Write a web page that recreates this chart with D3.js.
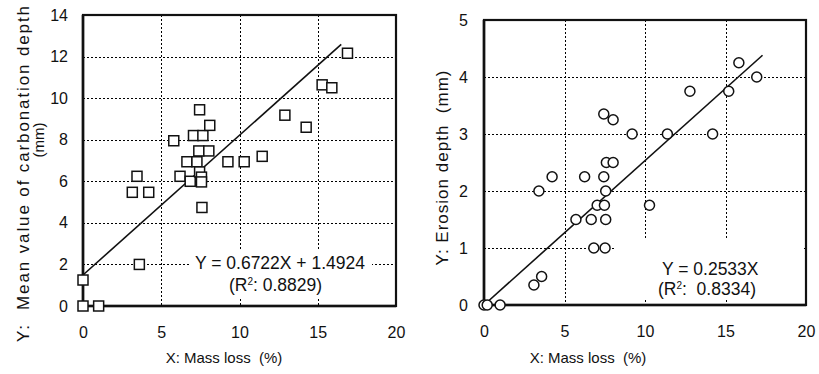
<!DOCTYPE html>
<html>
<head>
<meta charset="utf-8">
<script src="https://cdn.jsdelivr.net/npm/d3@7"></script>
<style>
  html, body { margin: 0; padding: 0; background: #fff; }
  svg { display: block; }
  text { font-family: "Liberation Sans", Arial, sans-serif; fill: #111; }
</style>
</head>
<body>
<svg id="chart" width="819" height="374"></svg>
<script>
// Carbonation depth vs. mass loss (left panel)
const carbMassLoss = [0, 1.0, 0, 3.6, 3.15, 4.2, 3.45, 5.8, 6.2, 6.64, 6.85, 7.06, 7.45, 7.66, 8.1,
  7.4, 8.04, 7.28, 7.45, 7.57, 7.57, 7.6, 9.26, 10.3, 11.45, 12.9, 14.26, 15.28, 15.9, 16.9];
const carbDepth = [0, 0, 1.25, 2.0, 5.47, 5.47, 6.24, 7.95, 6.24, 6.94, 6.0, 8.2, 9.44, 8.2, 8.69,
  7.46, 7.46, 6.94, 6.45, 6.2, 5.97, 4.74, 6.94, 6.94, 7.2, 9.18, 8.6, 10.64, 10.5, 12.16];
const carbFit = { slope: 0.6722, intercept: 1.4924, r2: "0.8829", xEnd: 16.5 };

// Erosion depth vs. mass loss (right panel)
const eroMassLoss = [0, 0.2, 1.0, 3.1, 3.58, 3.41, 4.23, 5.71, 6.25, 6.66, 6.82, 7.03, 7.44, 7.48,
  7.52, 7.56, 7.56, 7.6, 8.02, 7.44, 8.02, 9.2, 10.28, 11.39, 12.79, 14.2, 15.2, 15.83, 16.94];
const eroDepth = [0, 0, 0, 0.35, 0.5, 2.0, 2.25, 1.5, 2.25, 1.5, 1.0, 1.75, 2.25, 1.75,
  1.0, 1.5, 2.0, 2.5, 2.5, 3.35, 3.25, 3.0, 1.75, 3.0, 3.75, 3.0, 3.75, 4.25, 4.0];
const eroFit = { slope: 0.2533, intercept: 0, r2: "0.8334", xEnd: 17.3 };

const xTicks = [0, 5, 10, 15, 20];
const carbTicks = [0, 2, 4, 6, 8, 10, 12, 14];
const eroTicks = [0, 1, 2, 3, 4, 5];

const svg = d3.select("#chart");
const px = v => Math.round(v) + 0.5;

function panel(cfg) {
  const x = d3.scaleLinear().domain([0, 20]).range([cfg.left, cfg.right]);
  const y = d3.scaleLinear().domain([0, cfg.yMax]).range([cfg.bottom, cfg.top]);
  const g = svg.append("g");

  // dotted grid
  const gxVals = xTicks.filter(d => d > 0 && d < 20);
  const gyVals = cfg.yTicks.filter(d => d > 0 && d < cfg.yMax);
  gxVals.forEach(d => {
    g.append("line")
      .attr("x1", px(x(d))).attr("x2", px(x(d)))
      .attr("y1", cfg.top).attr("y2", cfg.bottom)
      .style("stroke", "#000").style("stroke-width", "1px").style("stroke-dasharray", "2 2");
  });
  gyVals.forEach(d => {
    g.append("line")
      .attr("x1", cfg.left).attr("x2", cfg.right)
      .attr("y1", px(y(d))).attr("y2", px(y(d)))
      .style("stroke", "#000").style("stroke-width", "1px").style("stroke-dasharray", "2 2");
  });

  // white box behind the regression label
  g.append("rect")
    .attr("x", cfg.box[0]).attr("y", cfg.box[1])
    .attr("width", cfg.box[2]).attr("height", cfg.box[3])
    .attr("fill", "#fff");

  // plot frame
  g.append("rect")
    .attr("x", cfg.left).attr("y", cfg.top)
    .attr("width", cfg.right - cfg.left).attr("height", cfg.bottom - cfg.top)
    .attr("fill", "none").attr("stroke", "#111").attr("stroke-width", 2.2);
  g.append("line").attr("x1", cfg.left).attr("x2", cfg.left)
    .attr("y1", cfg.top).attr("y2", cfg.bottom).attr("stroke", "#111").attr("stroke-width", 2.6);
  g.append("line").attr("x1", cfg.left).attr("x2", cfg.right)
    .attr("y1", cfg.bottom).attr("y2", cfg.bottom).attr("stroke", "#111").attr("stroke-width", 2.6);

  // axes (labels only)
  const ax = g.append("g").attr("transform", `translate(0,${cfg.bottom})`)
    .call(d3.axisBottom(x).tickValues(xTicks).tickSize(0).tickPadding(21).tickFormat(d3.format("d")));
  const ay = g.append("g").attr("transform", `translate(${cfg.left},0)`)
    .call(d3.axisLeft(y).tickValues(cfg.yTicks).tickSize(0).tickPadding(cfg.yPad).tickFormat(d3.format("d")));
  [ax, ay].forEach(a => {
    a.select(".domain").remove();
    a.selectAll("text").attr("font-size", 16).attr("font-family", "Liberation Sans, Arial, sans-serif").attr("fill", "#111");
  });

  // regression line
  g.append("line")
    .attr("x1", x(0)).attr("y1", y(cfg.fit.intercept))
    .attr("x2", x(cfg.fit.xEnd)).attr("y2", y(cfg.fit.intercept + cfg.fit.slope * cfg.fit.xEnd))
    .attr("stroke", "#111").attr("stroke-width", 1.6);

  // markers
  const pts = cfg.xs.map((v, i) => [v, cfg.ys[i]]);
  if (cfg.marker === "square") {
    g.append("g").selectAll("rect").data(pts).join("rect")
      .attr("x", d => x(d[0]) - 5).attr("y", d => y(d[1]) - 5)
      .attr("width", 10).attr("height", 10)
      .attr("fill", "#fff").attr("stroke", "#111").attr("stroke-width", 1.5);
  } else {
    g.append("g").selectAll("circle").data(pts).join("circle")
      .attr("cx", d => x(d[0])).attr("cy", d => y(d[1])).attr("r", 5)
      .attr("fill", "#fff").attr("stroke", "#111").attr("stroke-width", 1.5);
  }

  // regression label
  const eq = g.append("g");
  eq.append("text").attr("x", cfg.eqPos[0]).attr("y", cfg.eqPos[1]).attr("font-size", 17.5)
    .text(cfg.eqText);
  const r = eq.append("text").attr("x", cfg.r2Pos[0]).attr("y", cfg.r2Pos[1]).attr("font-size", 17.5);
  r.append("tspan").text("(R");
  r.append("tspan").attr("font-size", 10).attr("dy", -6).text("2");
  r.append("tspan").attr("dy", 6).text(":" + cfg.r2Gap + cfg.fit.r2 + ")");

  // axis titles
  g.append("text").attr("x", cfg.xTitle[0]).attr("y", cfg.xTitle[1])
    .attr("text-anchor", "middle").attr("font-size", 15).text("X: Mass loss\u00a0\u00a0(%)");
  cfg.yTitles.forEach(t => {
    const el = g.append("text")
      .attr("transform", `translate(${t.x},${t.y}) rotate(-90)`)
      .attr("text-anchor", "middle").attr("font-size", t.size || 17).text(t.text);
    if (t.len) el.attr("textLength", t.len).attr("lengthAdjust", "spacing");
  });
}

panel({
  left: 83, right: 396, top: 15, bottom: 306, yMax: 14, yTicks: carbTicks, yPad: 15,
  xs: carbMassLoss, ys: carbDepth, fit: carbFit, marker: "square",
  box: [190, 249, 182, 48],
  eqText: "Y = 0.6722X + 1.4924", eqPos: [195, 269], r2Pos: [229, 291], r2Gap: " ",
  xTitle: [224, 363],
  yTitles: [
    { x: 29, y: 174, text: "Y:\u00a0\u00a0Mean value of carbonation depth", len: 336 },
    { x: 44, y: 140, text: "(mm)", size: 15 }
  ]
});

panel({
  left: 484, right: 806, top: 20, bottom: 305, yMax: 5, yTicks: eroTicks, yPad: 16,
  xs: eroMassLoss, ys: eroDepth, fit: eroFit, marker: "circle",
  box: [614, 240, 190, 60],
  eqText: "Y = 0.2533X", eqPos: [662, 275], r2Pos: [658, 295], r2Gap: "\u00a0\u00a0",
  xTitle: [588, 363],
  yTitles: [
    { x: 448, y: 168, text: "Y: Erosion depth\u00a0\u00a0(mm)", len: 195 }
  ]
});
</script>
</body>
</html>
